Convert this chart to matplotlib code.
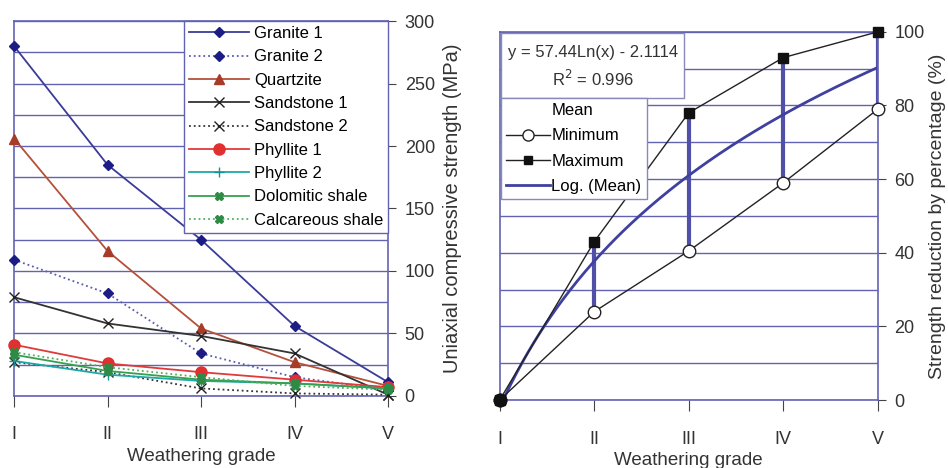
import numpy as np
import matplotlib
matplotlib.use("Agg")
import matplotlib.pyplot as plt
from matplotlib.lines import Line2D
from matplotlib.patches import Rectangle

plt.rcParams['font.family'] = ['Liberation Sans', 'DejaVu Sans']

grades = ["I", "II", "III", "IV", "V"]

# uniaxial compressive strength (MPa) per weathering grade
granite1 = [280, 185, 125, 56, 11]
granite2 = [109, 82, 34, 15, 5]
quartzite = [206, 116, 54, 27, 8]
sandstone1 = [79, 58, 48, 34, 1]
sandstone2 = [27, 19, 6, 2, 1]
phyllite1 = [41, 26, 19, 13, 7]
phyllite2 = [28, 17, 12, 10, 6]
dolomitic = [33, 20, 13, 10, 6]
calcareous = [35, 23, 15, 8, 5]

# strength reduction (%)
red_min = [0, 24, 40.5, 59, 79]
red_max = [0, 43, 78, 93, 100]
log_a, log_b = 57.44, -2.1114

grid_col = "#6262b2"
tick_col = "#444444"

fig = plt.figure(figsize=(9.48, 4.68), dpi=100)
ax1 = fig.add_axes([0.0148, 0.154, 0.3945, 0.801])
ax2 = fig.add_axes([0.527, 0.145, 0.399, 0.787])

x = np.arange(len(grades))

series = [
    ("Granite 1", granite1, "#3b3b98", "-", "D", "#1c1c85", 5),
    ("Granite 2", granite2, "#5b5bb0", ":", "D", "#1c1c85", 5),
    ("Quartzite", quartzite, "#b5503a", "-", "^", "#a83a28", 7),
    ("Sandstone 1", sandstone1, "#333333", "-", "x", "#222222", 7),
    ("Sandstone 2", sandstone2, "#333333", ":", "x", "#222222", 7),
    ("Phyllite 1", phyllite1, "#e03a3a", "-", "o", "#e03030", 8),
    ("Phyllite 2", phyllite2, "#20a8a8", "-", "+", "#1a9090", 7),
    ("Dolomitic shale", dolomitic, "#36a050", "-", "X", "#2e8a44", 6),
    ("Calcareous shale", calcareous, "#4cb060", ":", "X", "#2e8a44", 6),
]
for name, vals, col, ls, mk, mcol, ms in series:
    ax1.plot(x, vals, color=col, ls=ls, lw=1.3, marker=mk, ms=ms,
             mfc=mcol, mec=mcol, label=name, clip_on=False, zorder=3)

ax1.set_xlim(0, 4)
ax1.set_ylim(0, 300)
ax1.set_yticks(np.arange(0, 301, 50))
ax1.set_yticks(np.arange(0, 301, 25), minor=True)
ax1.yaxis.tick_right()
ax1.yaxis.set_label_position("right")
ax1.set_ylabel("Uniaxial compressive strength (MPa)", fontsize=14.5, color="#333333", labelpad=6)
ax1.set_xlabel("Weathering grade", fontsize=13.5, color="#333333", labelpad=3)

leg1 = ax1.legend(loc="upper right", bbox_to_anchor=(1.0, 1.0), fontsize=12,
                  frameon=True, fancybox=False, handlelength=3.6, handletextpad=0.3,
                  borderpad=0.3, labelspacing=0.5, borderaxespad=0)
leg1.get_frame().set_edgecolor(grid_col)
leg1.get_frame().set_linewidth(1.0)
leg1.get_frame().set_alpha(1)
leg1.set_zorder(5)

# right chart
ax2.plot(x, red_min, color="#222222", lw=1.0, marker="o", ms=9, mfc="white",
         mec="#222222", clip_on=False, zorder=3)
ax2.plot(x, red_max, color="#222222", lw=1.0, marker="s", ms=7, mfc="#111111",
         mec="#111111", clip_on=False, zorder=3)
ax2.vlines(x[1:], np.array(red_min[1:]), np.array(red_max[1:]), color="#5050a8", lw=3, zorder=2)
ax2.plot(x[0], 0, "o", ms=9, color="#111111", clip_on=False, zorder=4)
xs = np.linspace(1, 5, 200)
ax2.plot(xs - 1, log_a * np.log(xs) + log_b, color="#4040a0", lw=2, zorder=2)

ax2.set_xlim(0, 4)
ax2.set_ylim(0, 100)
ax2.set_yticks(np.arange(0, 101, 20))
ax2.set_yticks(np.arange(0, 101, 10), minor=True)
ax2.yaxis.tick_right()
ax2.yaxis.set_label_position("right")
ax2.set_ylabel("Strength reduction by percentage (%)", fontsize=14, color="#333333", labelpad=3)
ax2.set_xlabel("Weathering grade", fontsize=13.5, color="#333333", labelpad=3)

handles = [
    Line2D([], [], color="none"),
    Line2D([], [], color="#222222", lw=1, marker="o", ms=8, mfc="white", mec="#222222"),
    Line2D([], [], color="#222222", lw=1, marker="s", ms=6, mfc="#111111", mec="#111111"),
    Line2D([], [], color="#4040a0", lw=2),
]
leg2 = ax2.legend(handles, ["Mean", "Minimum", "Maximum", "Log. (Mean)"],
                  loc="upper left", bbox_to_anchor=(0.005, 0.82), fontsize=12,
                  frameon=True, fancybox=False, handlelength=2.6, handletextpad=0.1,
                  borderpad=0.3, labelspacing=0.62, borderaxespad=0)
leg2.get_frame().set_edgecolor("#8888bb")
leg2.get_frame().set_alpha(1)
leg2.set_zorder(5)

ax2.add_patch(Rectangle((0.005, 0.82), 0.482, 0.177, transform=ax2.transAxes,
                        facecolor="white", edgecolor="#8888bb", lw=1, zorder=5))
ax2.text(0.246, 0.905, "y = 57.44Ln(x) - 2.1114\nR$^2$ = 0.996", transform=ax2.transAxes,
         ha="center", va="center", fontsize=12, color="#333333", zorder=6, linespacing=1.5)

for ax in (ax1, ax2):
    ax.set_xticks(x)
    ax.set_xticklabels(grades)
    ax.grid(True, axis="y", which="both", color=grid_col, lw=1.0)
    ax.set_axisbelow(True)
    for s in ax.spines.values():
        s.set_color(grid_col)
        s.set_linewidth(1.2)
    ax.tick_params(axis="y", which="major", length=6, color=tick_col, labelsize=13,
                   labelcolor="#333333", pad=6)
    ax.tick_params(axis="y", which="minor", length=0)
    ax.tick_params(axis="x", length=8, color=tick_col, labelsize=13,
                   labelcolor="#333333", pad=14)

fig.savefig("out.png", dpi=100)
